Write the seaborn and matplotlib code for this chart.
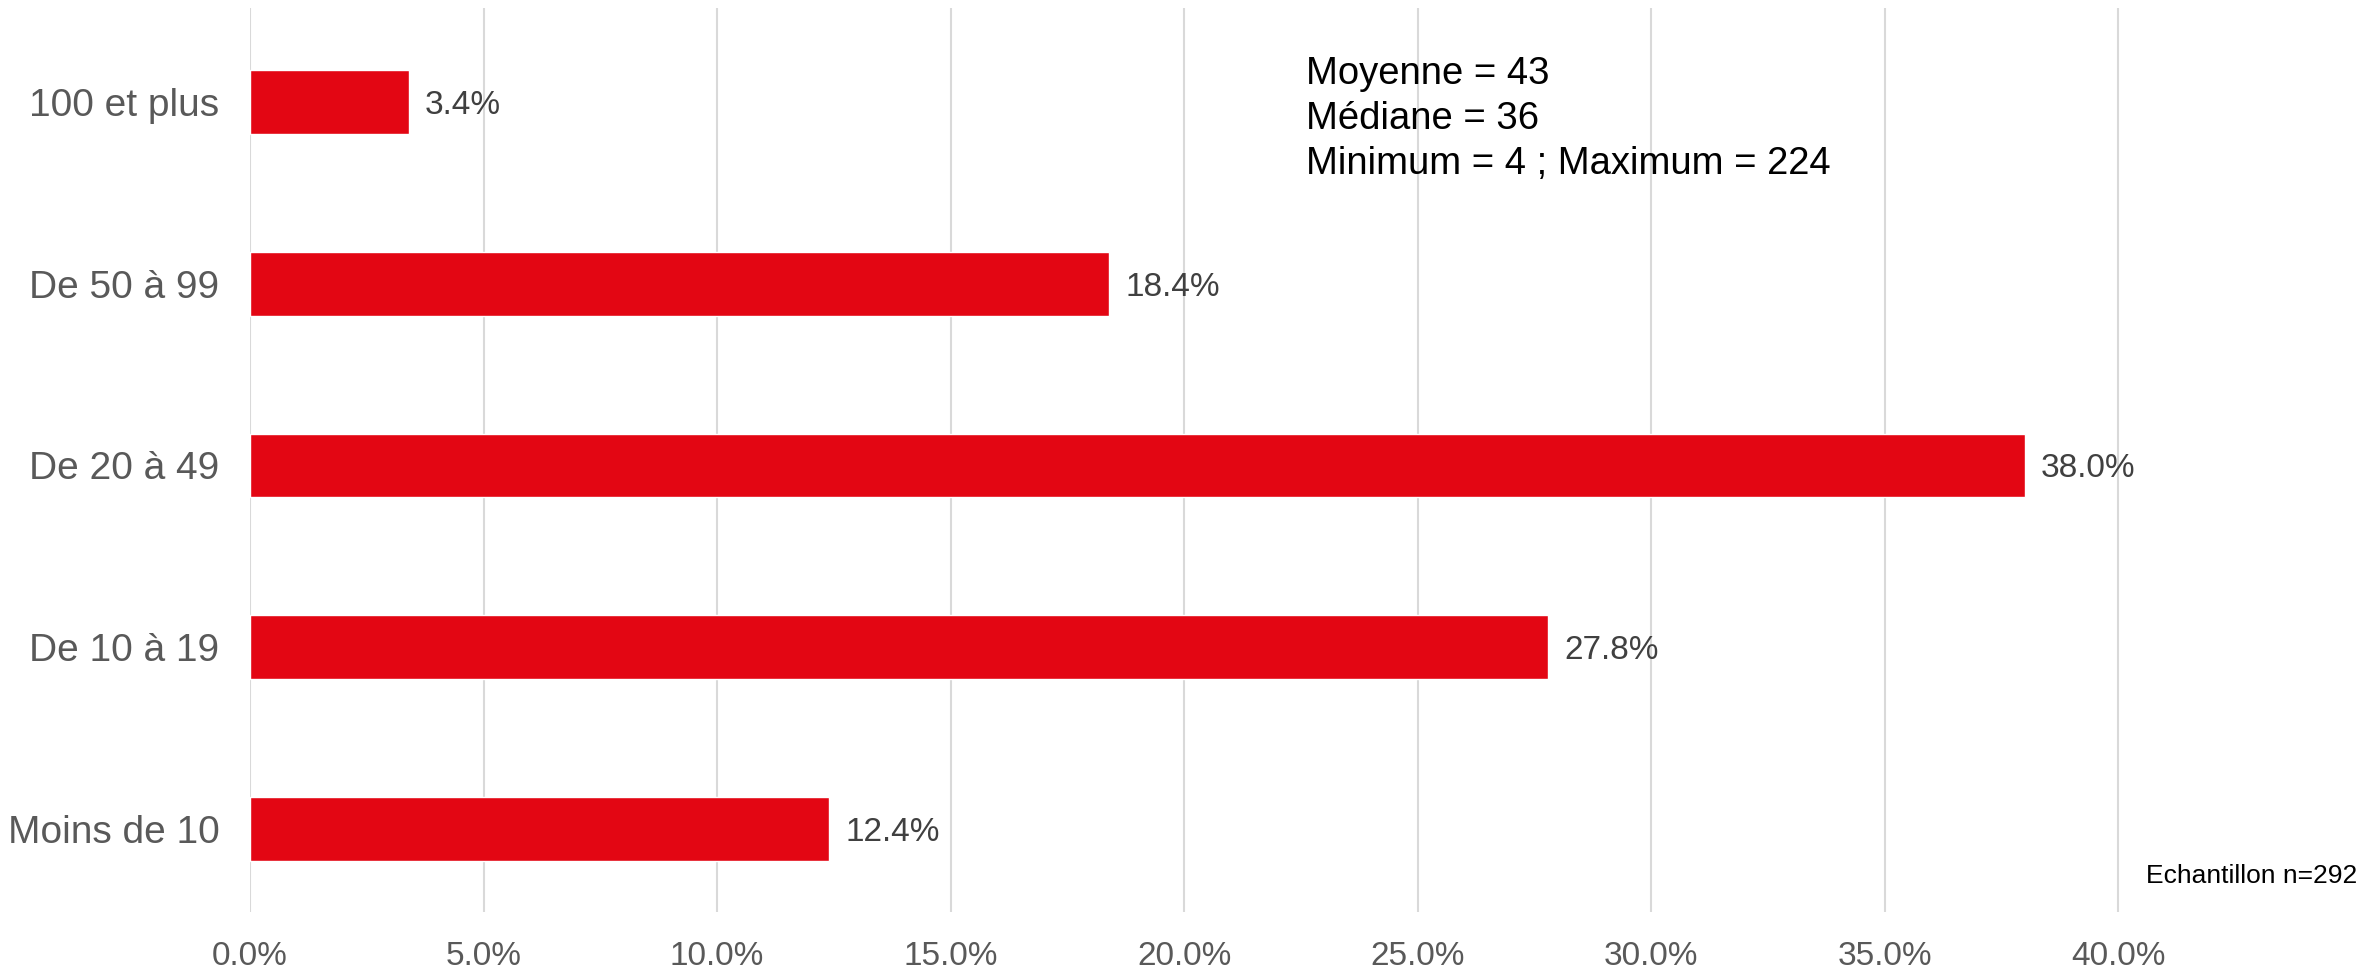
import numpy as np
import pandas as pd
import matplotlib
matplotlib.use('Agg')
import matplotlib.pyplot as plt
import seaborn as sns

# Data
categories = ['100 et plus', 'De 50 à 99', 'De 20 à 49', 'De 10 à 19', 'Moins de 10']
percents = [3.4, 18.4, 38.0, 27.8, 12.4]
x_ticks = [0, 5, 10, 15, 20, 25, 30, 35, 40]
stats_text = 'Moyenne = 43\nMédiane = 36\nMinimum = 4 ; Maximum = 224'
sample_text = 'Echantillon n=292'

df = pd.DataFrame({'categorie': categories, 'pct': percents})

sns.set_style('white')
plt.rcParams['font.family'] = ['Liberation Sans', 'DejaVu Sans']

fig = plt.figure(figsize=(23.64, 9.74), dpi=100)
ax = fig.add_axes([250 / 2364, 62 / 974, 2097 / 2364, 904 / 974])

sns.barplot(data=df, x='pct', y='categorie', order=categories, orient='h',
            color='#E30613', width=0.35, saturation=1, ax=ax, zorder=3)

# value labels
for i, v in enumerate(percents):
    ax.text(v + 0.35, i, f'{v:.1f}%', va='center_baseline', ha='left',
            fontsize=24, color='#404040')

ax.set_xlim(0, 44.9)
ax.set_ylim(4.457, -0.517)
ax.set_xticks(x_ticks)
ax.set_xticklabels([f'{t:.1f}%' for t in x_ticks])
ax.xaxis.grid(True, color='#D9D9D9', linewidth=1.5, zorder=0)
ax.yaxis.grid(False)
ax.set_axisbelow(True)
for s in ax.spines.values():
    s.set_visible(False)
ax.tick_params(axis='x', length=0, pad=21, labelsize=24, labelcolor='#595959')
ax.tick_params(axis='y', length=0, pad=22, labelsize=28, labelcolor='#595959')
ax.set_xlabel('')
ax.set_ylabel('')

ax.text(22.6, -0.255, stats_text, ha='left', va='top', fontsize=27.5,
        color='black', linespacing=1.32)
fig.text(2357 / 2364, 1 - 876 / 974, sample_text, ha='right', va='center',
         fontsize=19, color='black')

fig.savefig('out.png', dpi=100)
